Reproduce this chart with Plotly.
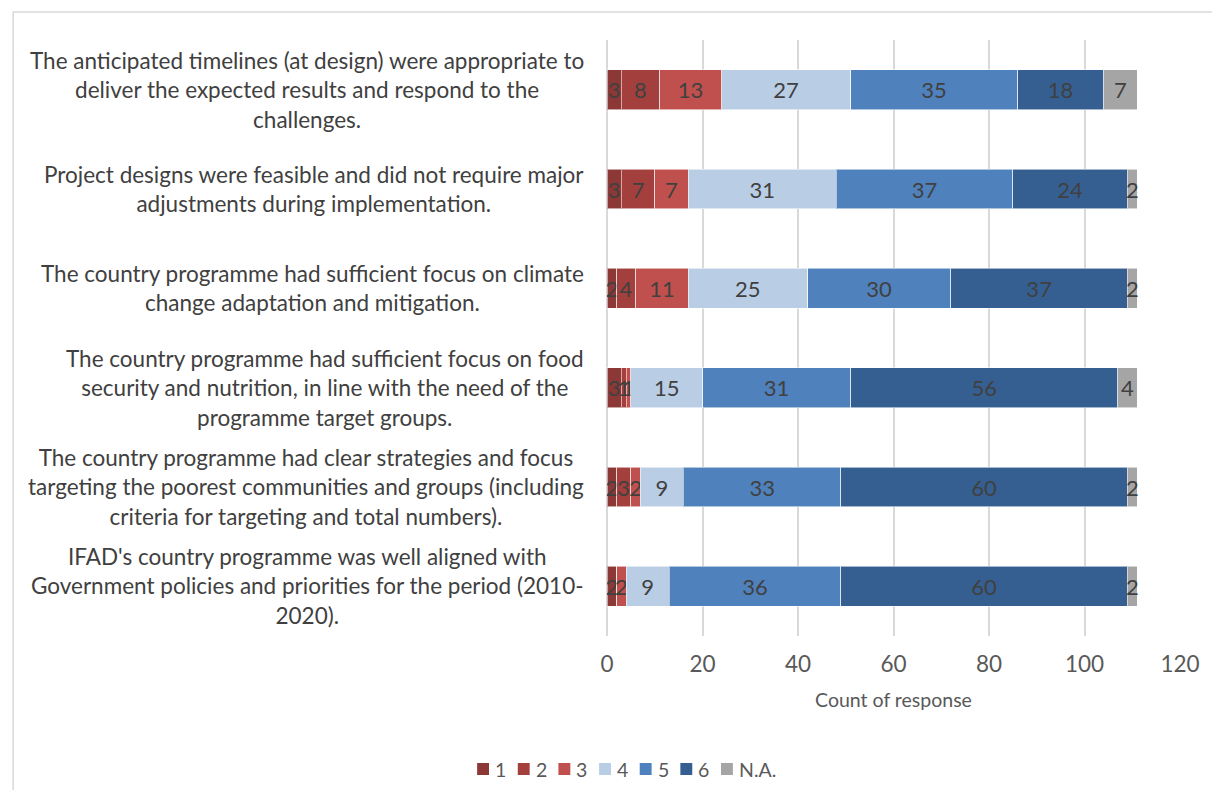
import plotly.graph_objects as go

categories = [
    "The anticipated timelines (at design) were appropriate to<br>deliver the expected results and respond to the<br>challenges.",
    "Project designs were feasible and did not require major<br>adjustments during implementation.",
    "The country programme had sufficient focus on climate<br>change adaptation and mitigation.",
    "The country programme had sufficient focus on food<br>security and nutrition, in line with the need of the<br>programme target groups.",
    "The country programme had clear strategies and focus<br>targeting the poorest communities and groups (including<br>criteria for targeting and total numbers).",
    "IFAD's country programme was well aligned with<br>Government policies and priorities for the period (2010-<br>2020).",
]

series_names = ["1", "2", "3", "4", "5", "6", "N.A."]
s1 = [3, 3, 2, 3, 2, 2]
s2 = [8, 7, 4, 1, 3, 0]
s3 = [13, 7, 11, 1, 2, 2]
s4 = [27, 31, 25, 15, 9, 9]
s5 = [35, 37, 30, 31, 33, 36]
s6 = [18, 24, 37, 56, 60, 60]
sna = [7, 2, 2, 4, 2, 2]
series_values = [s1, s2, s3, s4, s5, s6, sna]
colors = ["#8C3836", "#A3403E", "#C0504D", "#B9CDE5", "#4F81BD", "#355F91", "#A5A5A5"]

x_ticks = [0, 20, 40, 60, 80, 100, 120]

FONT = "Lato"
TXT = "#404040"

W, H = 1204, 782
L, R, T, B = 599, 27, 32, 154
PW, PH = W - L - R, H - T - B


def px_x(p):
    return (p - L) / PW


def px_y(p):
    return (T + PH - p) / PH


fig = go.Figure()
for name, vals, col in zip(series_names, series_values, colors):
    fig.add_trace(go.Bar(
        y=categories, x=vals, name=name, orientation="h",
        marker=dict(color=col, line=dict(color="rgba(255,255,255,0.55)", width=1)),
        text=[str(v) if v else "" for v in vals],
        textposition="inside", insidetextanchor="middle", textangle=0,
        constraintext="none",
        textfont=dict(family=FONT, size=22, color=TXT),
        hoverinfo="x+name", showlegend=False,
    ))

for c in categories:
    fig.add_annotation(
        x=0, xref="paper", y=c, yref="y", xanchor="right", yanchor="middle",
        xshift=-21, align="center", showarrow=False,
        text=c,
        font=dict(family=FONT, size=22.5, color=TXT),
    )

# legend (drawn as swatches + text, Excel style spacing)
leg_left = 468
leg_step = 41
leg_cy = 761
for i, (name, col) in enumerate(zip(series_names, colors)):
    x0 = leg_left + i * leg_step
    fig.add_shape(type="rect", xref="paper", yref="paper",
                  x0=px_x(x0), x1=px_x(x0 + 12), y0=px_y(leg_cy + 6), y1=px_y(leg_cy - 6),
                  line=dict(width=0), fillcolor=col)
    fig.add_annotation(x=px_x(x0 + 16), y=px_y(leg_cy), xref="paper", yref="paper",
                       xanchor="left", yanchor="middle", showarrow=False, text=name,
                       font=dict(family=FONT, size=19.5, color="#595959"))

# outer chart frame
fig.add_shape(type="rect", xref="paper", yref="paper",
              x0=px_x(0), x1=px_x(W + 10),
              y0=px_y(H + 10), y1=px_y(4),
              line=dict(color="#D9D9D9", width=1.5), fillcolor="rgba(0,0,0,0)", layer="below")

fig.update_layout(
    width=W, height=H,
    margin=dict(l=L, r=R, t=T, b=B),
    barmode="stack", bargap=0.6,
    plot_bgcolor="white", paper_bgcolor="white",
    font=dict(family=FONT, color="#595959"),
    xaxis=dict(range=[0, 120], tickvals=x_ticks, showgrid=True, gridcolor="#D9D9D9", gridwidth=2,
               zeroline=True, zerolinecolor="#D9D9D9", zerolinewidth=2,
               tickfont=dict(family=FONT, size=22.5, color="#595959"),
               ticks="outside", ticklen=8, tickcolor="rgba(0,0,0,0)",
               title=dict(text="Count of response", font=dict(family=FONT, size=19.5, color="#595959"), standoff=17)),
    yaxis=dict(autorange="reversed", showticklabels=False, showgrid=False, zeroline=False),
    showlegend=False,
)

fig.write_html("out.html")
